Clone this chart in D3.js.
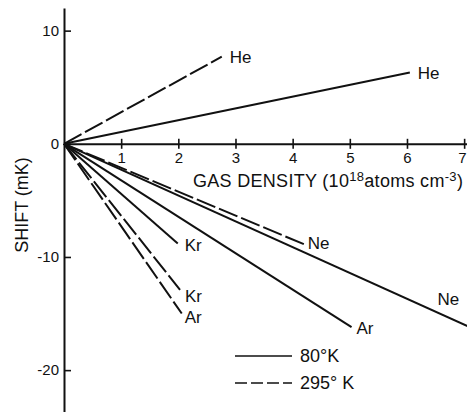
<!DOCTYPE html>
<html lang="en">
<head>
  <meta charset="UTF-8">
  <title>Shift vs gas density</title>
  <script src="https://d3js.org/d3.v7.min.js"></script>
  <style>
    body { margin: 0; background: #fff; }
    text { font-family: "Liberation Sans", Arial, sans-serif; fill: #111; }
  </style>
</head>
<body>

<script>
  // Chart data
  const gases = ['He', 'Ne', 'Ar', 'Kr'];
  // end points of each straight line from the origin: [density, shift]
  const end80 = [[6.05, 6.3], [7.1, -16.2], [5.03, -16.2], [1.99, -8.8]];
  const end295 = [[2.76, 7.7], [4.21, -8.9], [2.06, -15.0], [2.03, -12.9]];
  const xTicks = [1, 2, 3, 4, 5, 6, 7];
  const yTicks = [-20, -10, 0, 10];
  const legendLabels = ['80\u00b0K', '295\u00b0 K'];

  const width = 467;
  const height = 412;

  const svg = d3.select('body').append('svg')
    .attr('width', width)
    .attr('height', height);

  const x = d3.scaleLinear().domain([0, 7.05]).range([64, 467]);
  const y = d3.scaleLinear().domain([-23.7, 12]).range([412, 8]);

  // Y axis - ticks point inward, labels on the left
  const yAxis = svg.append('g')
    .attr('transform', `translate(${x(0)},0)`)
    .call(d3.axisLeft(y).tickValues(yTicks).tickSizeInner(-7).tickSizeOuter(0)
      .tickPadding(5).tickFormat(d => d === 0 ? '0' : (d < 0 ? '-' + (-d) : d)));

  // X axis - ticks cross the axis line
  const xAxis = svg.append('g')
    .attr('transform', `translate(0,${y(0)})`)
    .call(d3.axisBottom(x).tickValues(xTicks).tickSizeInner(5).tickSizeOuter(0)
      .tickPadding(4).tickFormat(d3.format('d')));
  xAxis.selectAll('.tick line').attr('y1', -5);
  // last label sits against the edge, as in the original
  xAxis.selectAll('.tick text').filter(d => d === 7).attr('text-anchor', 'end').attr('dx', 2);

  [xAxis, yAxis].forEach(g => {
    g.select('.domain').attr('stroke', '#111').attr('stroke-width', 2);
    g.selectAll('.tick line').attr('stroke', '#111').attr('stroke-width', 1.6);
    g.selectAll('.tick text').attr('font-size', 15).attr('font-family', '"Liberation Sans", Arial, sans-serif').attr('fill', '#111');
  });

  // axis titles
  const xt = svg.append('text')
    .attr('x', 193).attr('y', 187)
    .attr('font-size', 18)
    .attr('letter-spacing', 0.3);
  xt.append('tspan').text('GAS DENSITY (10');
  xt.append('tspan').attr('font-size', 13).attr('dy', -6).text('18');
  xt.append('tspan').attr('dy', 6).text('atoms cm');
  xt.append('tspan').attr('font-size', 13).attr('dy', -6).text('-3');
  xt.append('tspan').attr('dy', 6).text(')');

  svg.append('text')
    .attr('transform', 'translate(28,205) rotate(-90)')
    .attr('text-anchor', 'middle')
    .attr('font-size', 18)
    .text('SHIFT (mK)');

  // lines
  const line = d3.line().x(d => x(d[0])).y(d => y(d[1]));

  // label placement: fraction along the line, pixel offsets
  const lab80 = [[1, 8, 1], [0.92, 0, -13], [1, 5, 1], [1, 7, 2]];
  const lab295 = [[1, 8, 0], [1, 3, -1], [1, 3, 4], [1, 5, 6]];

  function drawSet(ends, labs, dash) {
    ends.forEach((e, i) => {
      svg.append('path')
        .attr('d', line([[0, 0], e]))
        .attr('fill', 'none')
        .attr('stroke', '#111')
        .attr('stroke-width', 2)
        .attr('stroke-dasharray', dash);
      const [t, dx, dy] = labs[i];
      svg.append('text')
        .attr('x', x(e[0] * t) + dx)
        .attr('y', y(e[1] * t) + dy)
        .attr('dy', '0.35em')
        .attr('font-size', 17)
        .text(gases[i]);
    });
  }
  drawSet(end80, lab80, null);
  drawSet(end295, lab295, '20,4');

  // legend
  const legend = svg.append('g');
  legendLabels.forEach((l, i) => {
    const ly = 356 + i * 27;
    legend.append('line')
      .attr('x1', 235).attr('x2', 292).attr('y1', ly).attr('y2', ly)
      .attr('stroke', '#111').attr('stroke-width', 1.6)
      .attr('stroke-dasharray', i === 0 ? null : '12,4');
    legend.append('text')
      .attr('x', 300).attr('y', ly).attr('dy', '0.35em')
      .attr('font-size', 18)
      .text(l);
  });
</script>

</body>
</html>
